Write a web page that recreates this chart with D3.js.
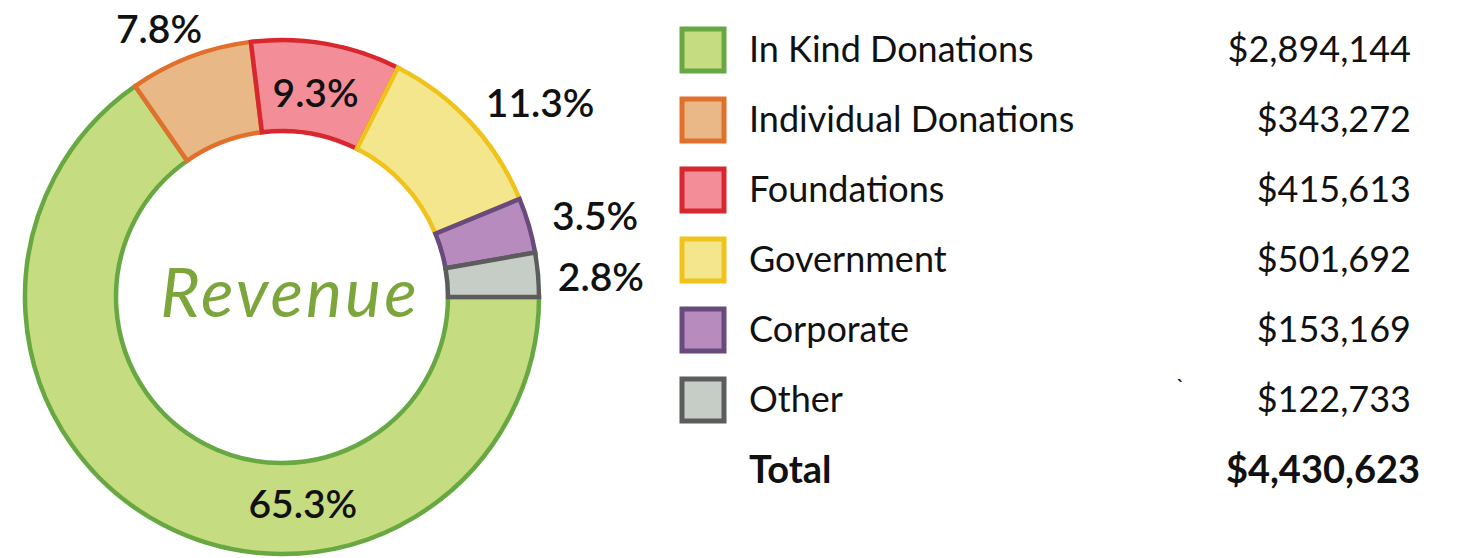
<!DOCTYPE html>
<html>
<head>
<meta charset="utf-8">
<script src="https://cdn.jsdelivr.net/npm/d3@7"></script>
<style>
  html, body { margin: 0; padding: 0; background: #fff; }
  svg { display: block; }
  text { font-family: Lato, "Noto Sans", sans-serif; fill: #111; }
</style>
</head>
<body>
<svg id="chart" width="1458" height="558"></svg>
<script>
// DATA
const categories = [
  "In Kind Donations",
  "Individual Donations",
  "Foundations",
  "Government",
  "Corporate",
  "Other",
];
const amounts = [2894144, 343272, 415613, 501692, 153169, 122733];
const pctLabels = ["65.3%", "7.8%", "9.3%", "11.3%", "3.5%", "2.8%"];
const totalLabel = "Total";
const centerTitle = "Revenue";

// STYLE
const fills = ["#c5dc80", "#e8b986", "#f38e98", "#f4e68c", "#b78bbd", "#c6cdc6"];
const strokes = ["#67a843", "#e0702b", "#d8272f", "#f0c31c", "#694a7d", "#5c5c5c"];
// label radius and nudge per slice (outside labels sit further out)
const labelPlace = [
  { r: 212, dx: 119, dy: 18 },
  { r: 300, dx: -16, dy: 11 },
  { r: 212, dx: -3, dy: 4 },
  { r: 300, dx: 38, dy: 9 },
  { r: 300, dx: 25, dy: 2 },
  { r: 300, dx: 20, dy: 5 },
];

const canvas = d3.select("#chart");
const cx = 282,
  cy = 297,
  outerR = 257,
  innerR = 166;

const total = d3.sum(amounts);

// DONUT
const pie = d3
  .pie()
  .sort(null)
  .value((d) => d)
  .startAngle(Math.PI / 2)
  .endAngle(Math.PI / 2 + 2 * Math.PI);

const arcs = pie(amounts);

const arc = d3.arc().innerRadius(innerR).outerRadius(outerR);

const g = canvas.append("g").attr("transform", `translate(${cx},${cy})`);

g.selectAll("path")
  .data(arcs)
  .join("path")
  .attr("d", arc)
  .attr("fill", (d, i) => fills[i])
  .attr("stroke", (d, i) => strokes[i])
  .attr("stroke-width", 4.5)
  .attr("stroke-linejoin", "miter");

g.selectAll("text.pct")
  .data(arcs)
  .join("text")
  .attr("class", "pct")
  .attr("transform", (d, i) => {
    const p = labelPlace[i];
    const c = d3.arc().innerRadius(p.r).outerRadius(p.r).centroid(d);
    return `translate(${c[0] + p.dx},${c[1] + p.dy})`;
  })
  .attr("text-anchor", "middle")
  .attr("dominant-baseline", "central")
  .style("font-size", "39px")
  .style("font-weight", 600)
  .text((d, i) => pctLabels[i]);

g.append("text")
  .attr("x", 8)
  .attr("y", 20)
  .attr("text-anchor", "middle")
  .style("font-size", "68px")
  .style("font-style", "italic")
  .style("font-weight", 400)
  .style("letter-spacing", "3px")
  .style("fill", "#7ca63c")
  .text(centerTitle);

// LEGEND TABLE
const rows = [...categories, totalLabel];
const yScale = d3.scalePoint().domain(rows).range([48, 468]);

const legend = canvas.append("g");
const box = 42;

legend
  .selectAll("rect")
  .data(categories)
  .join("rect")
  .attr("x", 682)
  .attr("y", (d) => yScale(d) + 2 - box / 2)
  .attr("width", box)
  .attr("height", box)
  .attr("fill", (d, i) => fills[i])
  .attr("stroke", (d, i) => strokes[i])
  .attr("stroke-width", 5);

const fmt = d3.format("$,");

legend
  .selectAll("text.name")
  .data(rows)
  .join("text")
  .attr("class", "name")
  .attr("x", 749)
  .attr("y", (d) => yScale(d))
  .attr("dominant-baseline", "central")
  .style("font-size", (d) => (d === totalLabel ? "38px" : "36px"))
  .style("font-weight", (d) => (d === totalLabel ? 700 : 400))
  .text((d) => d);

legend
  .selectAll("text.val")
  .data([...amounts, total])
  .join("text")
  .attr("class", "val")
  .attr("x", (d, i) => (i === amounts.length ? 1420 : 1411))
  .attr("y", (d, i) => yScale(rows[i]))
  .attr("text-anchor", "end")
  .attr("dominant-baseline", "central")
  .style("font-size", (d, i) => (i === amounts.length ? "38px" : "36px"))
  .style("font-weight", (d, i) => (i === amounts.length ? 700 : 400))
  .text((d) => fmt(d));

// stray tick mark present in the source artwork
legend
  .append("text")
  .attr("x", 1176)
  .attr("y", yScale("Other") - 4)
  .style("font-size", "22px")
  .text("`");
</script>
</body>
</html>
